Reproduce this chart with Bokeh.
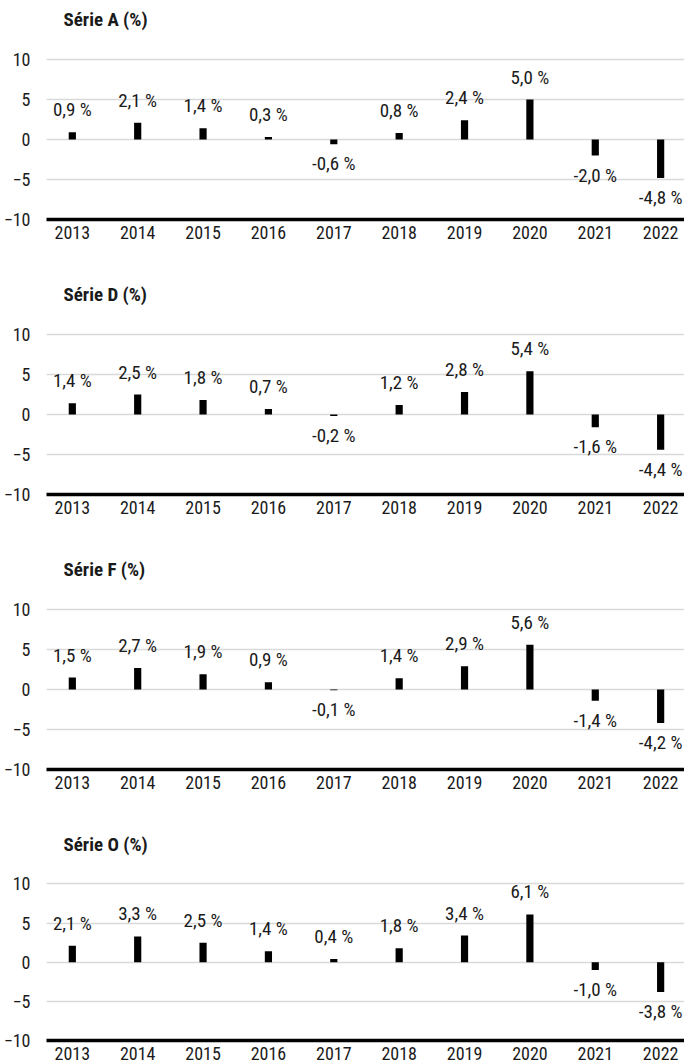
from bokeh.plotting import figure
from bokeh.layouts import column
from bokeh.models import ColumnDataSource, FixedTicker, Range1d, LabelSet, Title
from bokeh.core.properties import value
from bokeh.embed import file_html
from bokeh.resources import INLINE

years = [2013, 2014, 2015, 2016, 2017, 2018, 2019, 2020, 2021, 2022]
year_labels = ["2013", "2014", "2015", "2016", "2017", "2018", "2019", "2020", "2021", "2022"]
titles = ["Série A (%)", "Série D (%)", "Série F (%)", "Série O (%)"]
serie_a = [0.9, 2.1, 1.4, 0.3, -0.6, 0.8, 2.4, 5.0, -2.0, -4.8]
serie_d = [1.4, 2.5, 1.8, 0.7, -0.2, 1.2, 2.8, 5.4, -1.6, -4.4]
serie_f = [1.5, 2.7, 1.9, 0.9, -0.1, 1.4, 2.9, 5.6, -1.4, -4.2]
serie_o = [2.1, 3.3, 2.5, 1.4, 0.4, 1.8, 3.4, 6.1, -1.0, -3.8]
y_ticks = [-10, -5, 0, 5, 10]

FONT = "Roboto Condensed"
TXT = "#1a1a1a"


def fmt(v):
    return ("%.1f" % v).replace(".", ",") + " %"


def panel(title, vals, height, bottom):
    p = figure(width=684, height=height, output_backend="svg", toolbar_location=None,
               x_range=Range1d(2012.605, 2022.365), y_range=Range1d(-10, 13.125),
               min_border_left=42, min_border_right=0, min_border_top=34,
               min_border_bottom=bottom)
    p.outline_line_color = None
    p.background_fill_color = "white"
    p.border_fill_color = "white"

    t = Title(text=title, align="left", offset=17, standoff=8,
              vertical_align="bottom",
              text_font=FONT, text_font_size="19px", text_font_style="bold",
              text_color=TXT)
    p.add_layout(t, "above")

    src = ColumnDataSource(dict(
        x=years, top=vals,
        lab=[fmt(v) for v in vals],
        ypos=[v if v >= 0 else float("nan") for v in vals],
        yneg=[v if v < 0 else float("nan") for v in vals],
    ))
    p.vbar(x="x", top="top", bottom=0, width=0.11, source=src,
           fill_color="black", line_color=None)

    lp = LabelSet(x="x", y="ypos", text="lab", source=src, text_align="center",
                  text_baseline="bottom", y_offset=11, text_font=value(FONT),
                  text_font_size="19px", text_color=TXT)
    ln = LabelSet(x="x", y="yneg", text="lab", source=src, text_align="center",
                  text_baseline="top", y_offset=-8, text_font=value(FONT),
                  text_font_size="19px", text_color=TXT)
    p.add_layout(lp)
    p.add_layout(ln)

    p.xaxis.ticker = FixedTicker(ticks=years)
    p.xaxis.major_label_overrides = {y: l for y, l in zip(years, year_labels)}
    p.xaxis.axis_line_width = 3.5
    p.xaxis.axis_line_color = "black"
    p.xaxis.major_tick_line_color = None
    p.xaxis.minor_tick_line_color = None
    p.xaxis.major_label_standoff = 0
    p.xaxis.major_label_text_font = FONT
    p.xaxis.major_label_text_font_size = "18px"
    p.xaxis.major_label_text_color = TXT

    p.yaxis.ticker = FixedTicker(ticks=y_ticks)
    p.yaxis.axis_line_color = None
    p.yaxis.major_tick_line_color = None
    p.yaxis.minor_tick_line_color = None
    p.yaxis.major_label_standoff = 10
    p.yaxis.major_label_text_font = FONT
    p.yaxis.major_label_text_font_size = "18px"
    p.yaxis.major_label_text_color = TXT

    p.xgrid.grid_line_color = None
    p.ygrid.ticker = FixedTicker(ticks=y_ticks)
    p.ygrid.grid_line_color = "#d9d9d9"
    p.ygrid.grid_line_width = 1.5
    return p


H = 275
plots = [
    panel(titles[0], serie_a, H, H - 219),
    panel(titles[1], serie_d, H, H - 219),
    panel(titles[2], serie_f, H, H - 219),
    panel(titles[3], serie_o, 1062 - 3 * H, 1062 - 3 * H - 219),
]
layout = column(*plots, spacing=0)
open("out.html", "w").write(file_html(layout, INLINE))
